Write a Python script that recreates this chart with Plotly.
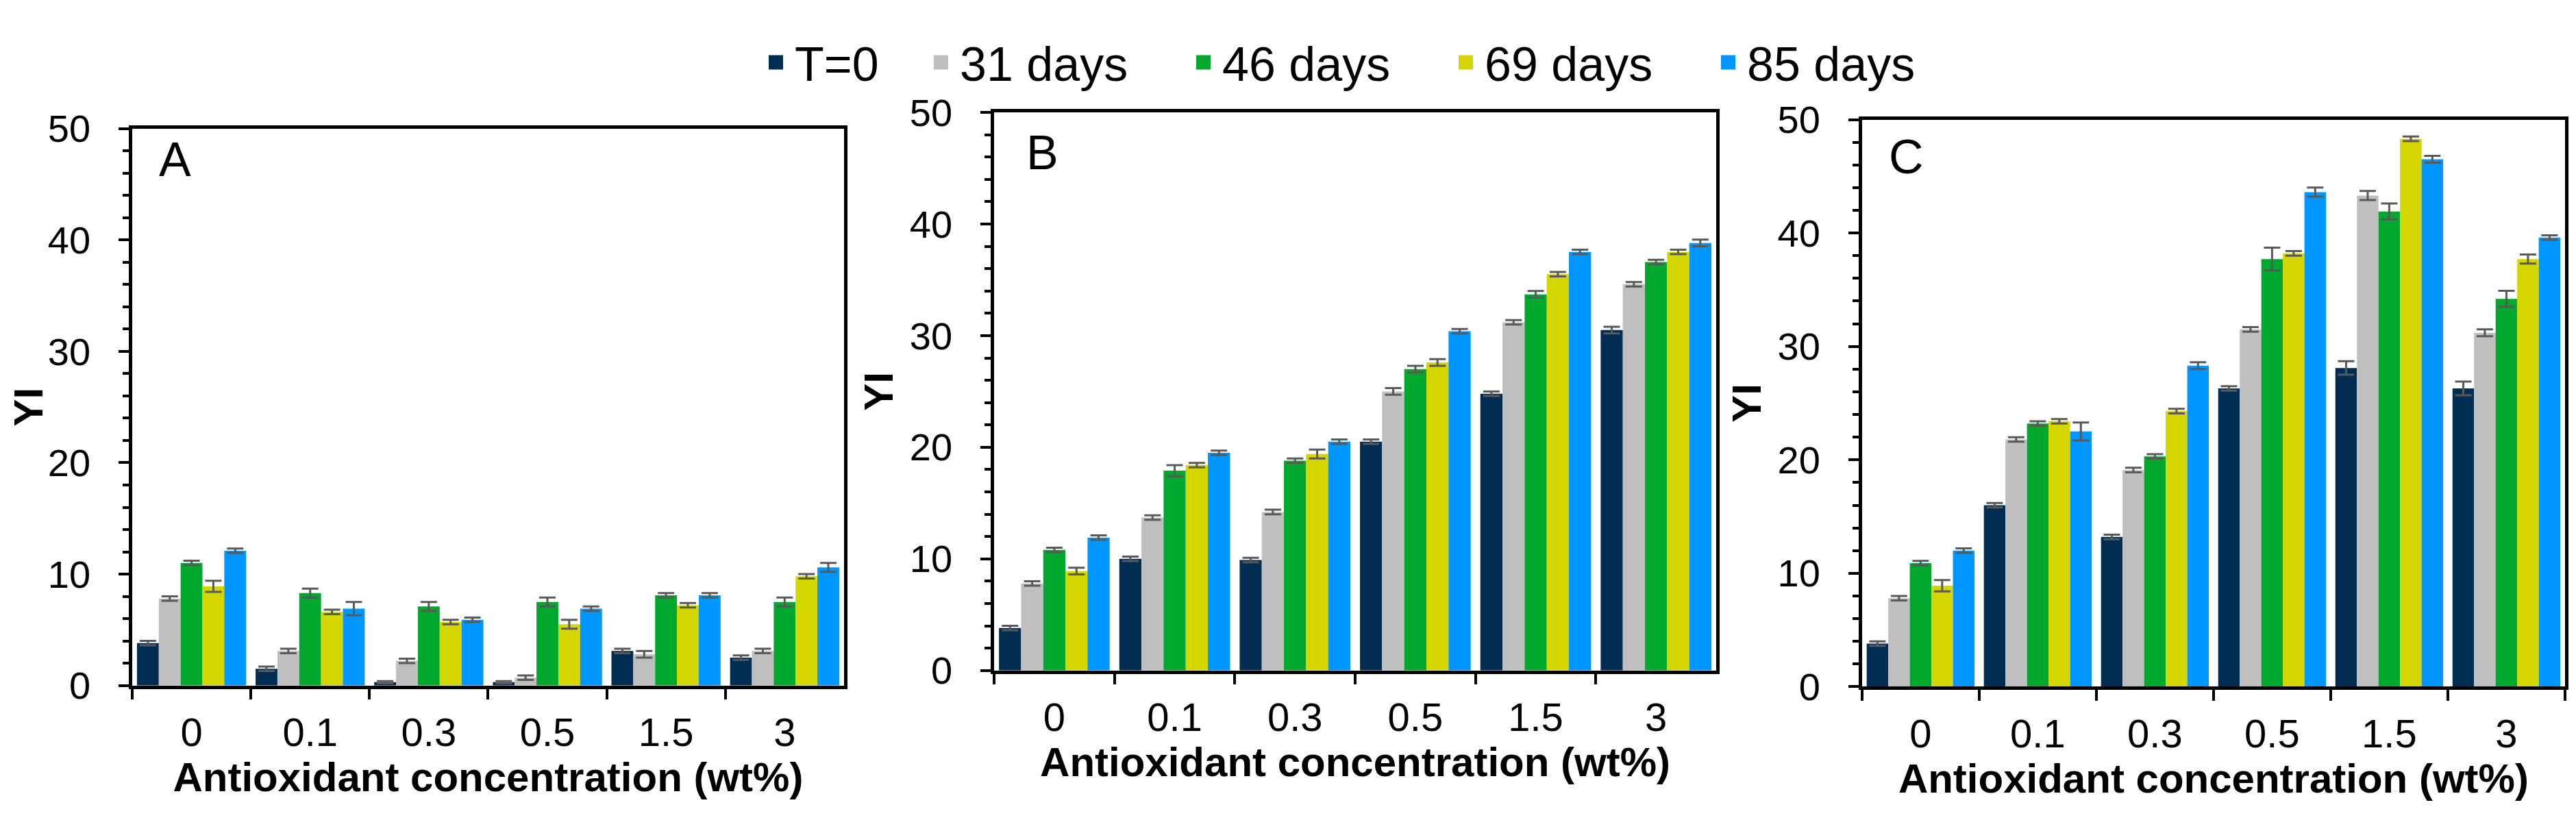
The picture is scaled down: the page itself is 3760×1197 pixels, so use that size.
import plotly.graph_objects as go

# ---------------- data ----------------
conc = ["0", "0.1", "0.3", "0.5", "1.5", "3"]
series = ["T=0", "31 days", "46 days", "69 days", "85 days"]
colors = ["#012D53", "#BFBFBF", "#00A82D", "#D4D600", "#0096FF"]

# Panel A
A_t0 = [3.8, 1.5, 0.3, 0.3, 3.1, 2.5]
A_31 = [7.8, 3.1, 2.2, 0.7, 2.8, 3.1]
A_46 = [11.0, 8.3, 7.1, 7.5, 8.1, 7.5]
A_69 = [8.9, 6.6, 5.7, 5.5, 7.2, 9.8]
A_85 = [12.1, 6.9, 5.9, 6.9, 8.1, 10.6]
A_t0e = [0.2, 0.2, 0.1, 0.1, 0.2, 0.2]
A_31e = [0.2, 0.2, 0.2, 0.2, 0.3, 0.2]
A_46e = [0.2, 0.4, 0.4, 0.4, 0.2, 0.4]
A_69e = [0.5, 0.2, 0.2, 0.4, 0.2, 0.2]
A_85e = [0.2, 0.6, 0.2, 0.2, 0.2, 0.4]

# Panel B
B_t0 = [3.8, 10.0, 9.9, 20.5, 24.8, 30.5]
B_31 = [7.8, 13.7, 14.2, 25.0, 31.2, 34.6]
B_46 = [10.8, 17.9, 18.8, 27.0, 33.7, 36.6]
B_69 = [8.9, 18.4, 19.4, 27.6, 35.5, 37.5]
B_85 = [11.9, 19.5, 20.5, 30.4, 37.5, 38.3]
B_t0e = [0.2, 0.2, 0.2, 0.2, 0.2, 0.3]
B_31e = [0.2, 0.2, 0.2, 0.3, 0.2, 0.2]
B_46e = [0.2, 0.5, 0.2, 0.3, 0.3, 0.2]
B_69e = [0.3, 0.2, 0.4, 0.3, 0.2, 0.2]
B_85e = [0.2, 0.2, 0.2, 0.2, 0.2, 0.3]

# Panel C
C_t0 = [3.8, 16.0, 13.2, 26.3, 28.1, 26.3]
C_31 = [7.8, 21.8, 19.1, 31.5, 43.3, 31.2]
C_46 = [10.9, 23.2, 20.3, 37.7, 41.9, 34.2]
C_69 = [8.9, 23.4, 24.3, 38.2, 48.3, 37.7]
C_85 = [12.0, 22.5, 28.3, 43.6, 46.5, 39.6]
C_t0e = [0.2, 0.2, 0.2, 0.2, 0.6, 0.6]
C_31e = [0.2, 0.2, 0.2, 0.2, 0.4, 0.3]
C_46e = [0.2, 0.2, 0.2, 1.0, 0.7, 0.7]
C_69e = [0.5, 0.2, 0.2, 0.2, 0.2, 0.4]
C_85e = [0.2, 0.8, 0.3, 0.4, 0.3, 0.2]

panel_labels = ["A", "B", "C"]
y_ticks = [0, 10, 20, 30, 40, 50]
x_title = "Antioxidant concentration (wt%)"
y_title = "YI"

panels = [
    ([A_t0, A_31, A_46, A_69, A_85], [A_t0e, A_31e, A_46e, A_69e, A_85e]),
    ([B_t0, B_31, B_46, B_69, B_85], [B_t0e, B_31e, B_46e, B_69e, B_85e]),
    ([C_t0, C_31, C_46, C_69, C_85], [C_t0e, C_31e, C_46e, C_69e, C_85e]),
]

# ---------------- layout geometry ----------------
W, H = 3760, 1197
x_domains = [[0.0492, 0.3255], [0.3838, 0.6641], [0.7207, 0.9936]]
y_domains = [[0.1520, 0.8688], [0.1713, 0.8897], [0.1504, 0.8805]]
legend_x_px = [1097, 1338, 1721, 2104, 2487]
FONT = "Liberation Sans, Arial, Helvetica, sans-serif"

fig = go.Figure()

for p, (vals, errs) in enumerate(panels):
    xa = "x" if p == 0 else f"x{p+1}"
    ya = "y" if p == 0 else f"y{p+1}"
    for s in range(5):
        fig.add_trace(go.Bar(
            x=conc, y=vals[s], name=series[s],
            marker=dict(color=colors[s], line=dict(width=0)),
            error_y=dict(type="data", array=errs[s], visible=True,
                         color="#595959", thickness=3, width=12),
            xaxis=xa, yaxis=ya, showlegend=False,
        ))

# legend-only entries, one legend box per entry
for s in range(5):
    fig.add_trace(go.Scatter(
        x=[None], y=[None], mode="markers", name=series[s],
        marker=dict(symbol="square", size=16, color=colors[s],
                    line=dict(color=colors[s], width=5)),
        xaxis="x", yaxis="y", showlegend=True,
        legend="legend" if s == 0 else f"legend{s+1}",
    ))

layout = dict(
    width=W, height=H,
    margin=dict(l=0, r=0, t=0, b=0),
    paper_bgcolor="white", plot_bgcolor="white",
    barmode="group", bargap=0.08, bargroupgap=0,
    font=dict(family=FONT, color="black", size=56),
    annotations=[],
)

for s in range(5):
    key = "legend" if s == 0 else f"legend{s+1}"
    layout[key] = dict(
        orientation="h", x=legend_x_px[s] / W, xanchor="left",
        y=1 - 55 / H, yanchor="middle",
        font=dict(size=70, family=FONT, color="black"),
        itemwidth=45, bgcolor="rgba(0,0,0,0)", borderwidth=0,
    )

for p in range(3):
    xk = "xaxis" if p == 0 else f"xaxis{p+1}"
    yk = "yaxis" if p == 0 else f"yaxis{p+1}"
    ya = "y" if p == 0 else f"y{p+1}"
    xa = "x" if p == 0 else f"x{p+1}"
    layout[xk] = dict(
        domain=x_domains[p], anchor=ya, type="category",
        categoryorder="array", categoryarray=conc,
        showline=True, linecolor="black", linewidth=4.5, mirror=True,
        ticks="outside", tickson="boundaries", ticklen=16, tickwidth=4,
        tickcolor="black", showgrid=False, zeroline=False,
        tickfont=dict(size=58, family=FONT), ticklabelstandoff=14,
        title=dict(text=f"<b>{x_title}</b>", font=dict(size=60, family=FONT),
                   standoff=14),
    )
    layout[yk] = dict(
        domain=y_domains[p], anchor=xa, range=[0, 50],
        tickvals=y_ticks, showline=True, linecolor="black", linewidth=4.5,
        mirror=True, ticks="outside", ticklen=15, tickwidth=4,
        tickcolor="black", showgrid=False, zeroline=False,
        tickfont=dict(size=56, family=FONT), ticklabelstandoff=30,
        minor=dict(dtick=2, ticks="outside", ticklen=9, tickwidth=4,
                   tickcolor="black", showgrid=False),
        title=dict(text=f"<b>{y_title}</b>", font=dict(size=60, family=FONT),
                   standoff=6),
    )

letter_pos = [(222, 205), (1488, 194), (2747, 201)]
for p, (lx, ly) in enumerate(letter_pos):
    layout["annotations"].append(dict(
        text=panel_labels[p], xref="paper", yref="paper",
        x=lx / W, y=1 - ly / H, xanchor="left", yanchor="middle",
        showarrow=False, font=dict(size=70, family=FONT, color="black"),
    ))

fig.update_layout(**layout)
fig.write_html("out.html")
